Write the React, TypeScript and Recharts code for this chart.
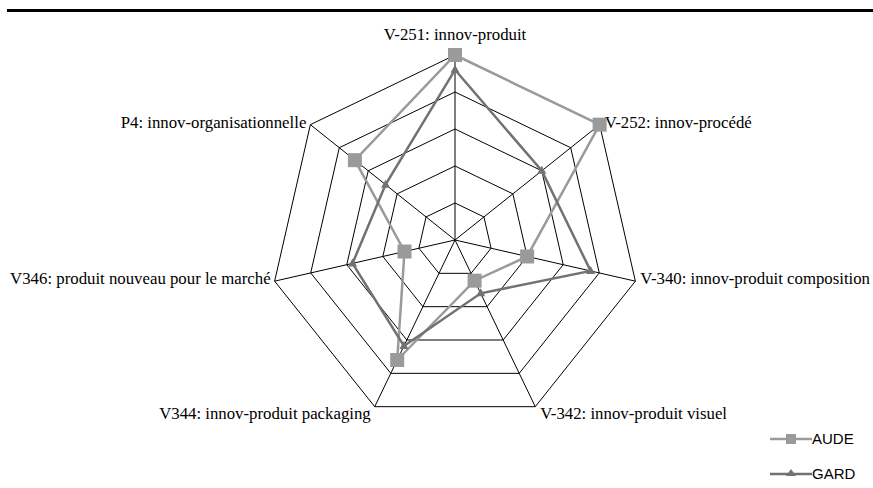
import { RadarChart, Radar, PolarGrid, PolarAngleAxis, PolarRadiusAxis, Legend } from "recharts";

const CATEGORIES = [
  "V-251: innov-produit",
  "V-252: innov-procédé",
  "V-340: innov-produit composition",
  "V-342: innov-produit visuel",
  "V344: innov-produit packaging",
  "V346: produit nouveau pour le marché",
  "P4: innov-organisationnelle",
];
const AUDE = [5, 5, 2, 1.22, 3.6, 1.4, 3.46];
const GARD = [4.6, 3, 3.76, 1.6, 3.18, 2.84, 2.4];

const data = CATEGORIES.map((name, i) => ({ name, AUDE: AUDE[i], GARD: GARD[i] }));

const CX = 455;
const CY = 240;
const R = 185;
const RAD = Math.PI / 180;
const AUDE_COLOR = "#9a9a9a";
const GARD_COLOR = "#727272";
const SERIF = "'Liberation Serif', 'Times New Roman', serif";
const SANS = "'Liberation Sans', Arial, sans-serif";

function AxisLabel(props: any) {
  const { payload } = props;
  const angle = payload.coordinate;
  const vx = CX + Math.cos(-angle * RAD) * R;
  const vy = CY + Math.sin(-angle * RAD) * R;
  let anchor: "start" | "middle" | "end" = "middle";
  let x = vx;
  let y = vy;
  if (Math.abs(vx - CX) < 1) {
    y = vy - 15;
  } else {
    anchor = vx > CX ? "start" : "end";
    x = vx > CX ? vx + 5 : vx - 4;
    y = vy > CY + 100 ? vy + 12 : vy + 3;
  }
  return (
    <text x={x} y={y} textAnchor={anchor} fontFamily={SERIF} fontSize={16.8} fill="#000">
      {payload.value}
    </text>
  );
}

const squareDot = (p: any) => (
  <rect key={`a-${p.index}`} x={p.cx - 7} y={p.cy - 7} width={14} height={14} fill={AUDE_COLOR} />
);
const triangleDot = (p: any) => (
  <polygon
    key={`g-${p.index}`}
    points={`${p.cx},${p.cy - 5} ${p.cx + 4.5},${p.cy + 3} ${p.cx - 4.5},${p.cy + 3}`}
    fill={GARD_COLOR}
  />
);

const renderLegend = () => (
  <svg width={100} height={60}>
    <line x1={2} y1={12} x2={44} y2={12} stroke={AUDE_COLOR} strokeWidth={2.5} />
    <rect x={18} y={7} width={10} height={10} fill={AUDE_COLOR} />
    <text x={44} y={17} fontFamily={SANS} fontSize={15} fill="#000">AUDE</text>
    <line x1={2} y1={47} x2={44} y2={47} stroke={GARD_COLOR} strokeWidth={2.5} />
    <polygon points="23,42 28,49 18,49" fill={GARD_COLOR} />
    <text x={44} y={52} fontFamily={SANS} fontSize={15} fill="#000">GARD</text>
  </svg>
);

export default function App() {
  return (
    <div style={{ position: "absolute", left: 0, top: 0, width: 873, height: 488, background: "#fff" }}>
      <div style={{ position: "absolute", left: 7, top: 9, width: 866, height: 3, background: "#000" }} />
      <RadarChart
        width={873}
        height={488}
        data={data}
        cx={CX}
        cy={CY}
        outerRadius={R}
        margin={{ top: 0, right: 0, bottom: 0, left: 0 }}
      >
        <PolarGrid gridType="polygon" stroke="#000" strokeWidth={1} strokeOpacity={1} />
        <PolarAngleAxis dataKey="name" tick={AxisLabel} tickLine={false} axisLine={false} />
        <PolarRadiusAxis domain={[0, 5]} tickCount={6} tick={false} axisLine={false} />
        <Radar
          dataKey="AUDE"
          stroke={AUDE_COLOR}
          strokeWidth={2.5}
          fill="none"
          fillOpacity={0}
          dot={squareDot}
          isAnimationActive={false}
        />
        <Radar
          dataKey="GARD"
          stroke={GARD_COLOR}
          strokeWidth={2.5}
          fill="none"
          fillOpacity={0}
          dot={triangleDot}
          isAnimationActive={false}
        />
        <Legend
          layout="vertical"
          align="right"
          verticalAlign="bottom"
          content={renderLegend}
          wrapperStyle={{ position: "absolute", left: 768, top: 427, width: 100, height: 60 }}
        />
      </RadarChart>
    </div>
  );
}
